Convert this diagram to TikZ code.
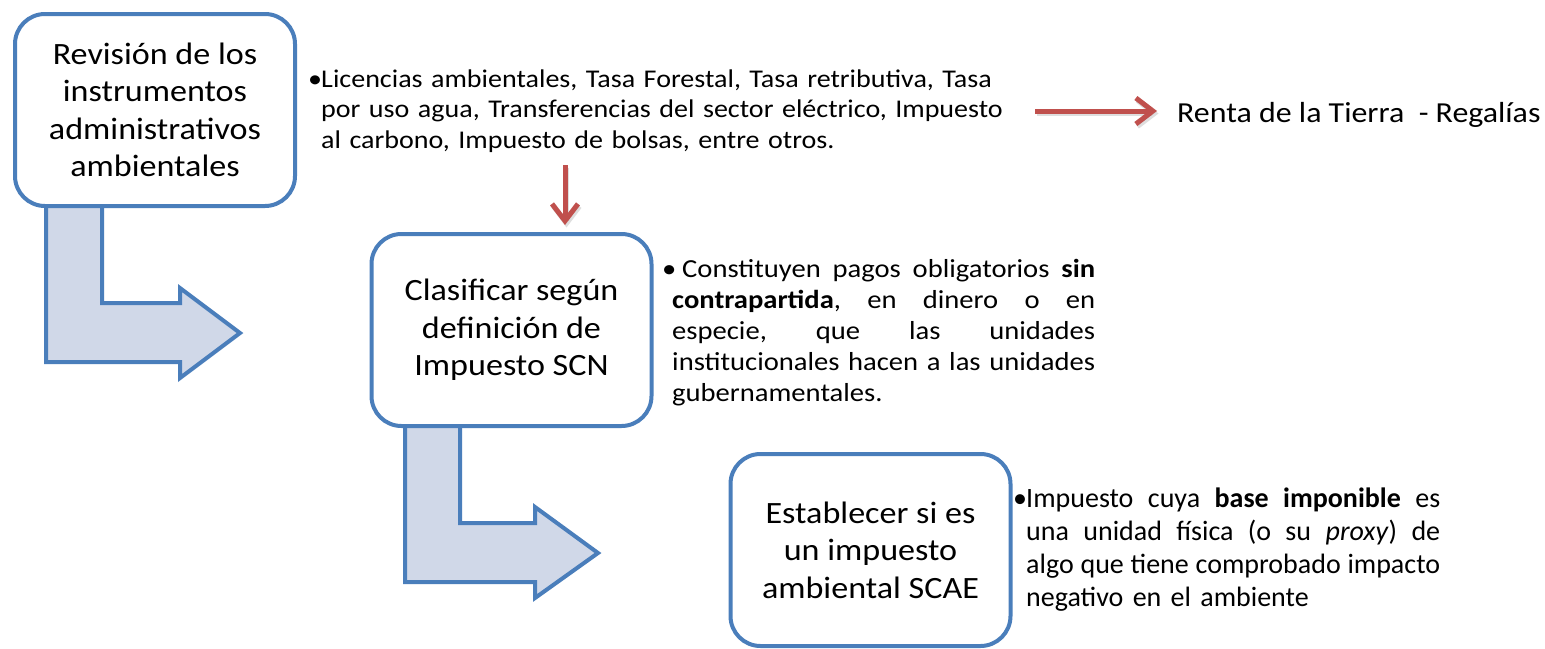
\documentclass[tikz,border=0pt]{standalone}
\usepackage{fontspec}
\setmainfont[FakeStretch=1.1]{Carlito}
\newfontfamily\plaincarlito{Carlito}
\usetikzlibrary{arrows.meta}
\definecolor{boxblue}{RGB}{74,126,187}
\definecolor{arrowfill}{RGB}{208,216,232}
\definecolor{arrred}{RGB}{192,80,77}
\begin{document}
\begin{tikzpicture}[x=1pt,y=-1pt,
  stepbox/.style={draw=boxblue, line width=4pt, fill=white, rounded corners=30pt,
    minimum width=280pt, minimum height=192pt, inner sep=0pt, align=center,
    font=\fontsize{31}{37.5}\selectfont},
  bendarrow/.style={draw=boxblue, line width=4pt, fill=arrowfill, line join=miter},
  redarrow/.style={draw=arrred, line width=5pt, -{Straight Barb[length=17pt,width=26pt]}},
  redshadow/.style={draw=black!25, opacity=0.5, line width=5pt, -{Straight Barb[length=17pt,width=26pt]},
    transform canvas={shift={(1.5pt,-2.5pt)}}},
  bullettext/.style={anchor=base west, inner sep=0pt, align=left, text width=740pt}]
\useasboundingbox (0,0) rectangle (1545,648);
\fill[white] (0,0) rectangle (1545,648);

% bent arrows (drawn first, boxes cover their tops)
\draw[bendarrow] (46,200) -- (46,362) -- (180,362) -- (180,378) -- (240,333)
  -- (180,288) -- (180,303) -- (102,303) -- (102,200) -- cycle;
\draw[bendarrow] (405,420) -- (405,582) -- (535,582) -- (535,598) -- (598,553)
  -- (535,507) -- (535,523) -- (460,523) -- (460,420) -- cycle;

% boxes
\node[stepbox] (b1) at (155,110) {Revisión de los\\instrumentos\\administrativos\\ambientales};
\node[stepbox] (b2) at (511.5,330) {Clasificar según\\definición de\\Impuesto SCN};
\node[stepbox] (b3) at (870.5,550) {Establecer si es\\un impuesto\\ambiental SCAE};

% bullet texts
\node[bullettext, font=\fontsize{25.5}{30.5}\selectfont] (t1) at (308,87)
  {\makebox[13pt][l]{•}Licencias ambientales, Tasa Forestal, Tasa retributiva, Tasa\\
   \hspace*{13pt}por uso agua, Transferencias del sector eléctrico, Impuesto\\
   \hspace*{13pt}al carbono, Impuesto de bolsas, entre otros.};

\node[bullettext, font=\fontsize{26}{31}\selectfont] (t2) at (662,277)
  {\makebox[10pt][l]{•}\makebox[423pt][l]{\hspace{10pt}Constituyen\hfill pagos\hfill obligatorios\hfill\textbf{sin}}\\
   \hspace*{10pt}\makebox[423pt][l]{\textbf{contrapartida},\hfill en\hfill dinero\hfill o\hfill en}\\
   \hspace*{10pt}\makebox[423pt][l]{especie,\hfill que\hfill las\hfill unidades}\\
   \hspace*{10pt}\makebox[423pt][l]{institucionales\hfill hacen\hfill a\hfill las\hfill unidades}\\
   \hspace*{10pt}gubernamentales.};

\node[bullettext, font=\plaincarlito\fontsize{28}{33}\selectfont] (t3) at (1013,507)
  {\makebox[13pt][l]{•}\makebox[414pt][l]{Impuesto\hfill cuya\hfill\textbf{base}\hfill\textbf{imponible}\hfill es}\\
   \hspace*{13pt}\makebox[414pt][l]{una\hfill unidad\hfill física\hfill (o\hfill su\hfill\textit{proxy})\hfill de}\\
   \hspace*{13pt}\makebox[414pt][l]{algo\hfill que\hfill tiene\hfill comprobado\hfill impacto}\\
   \hspace*{13pt}negativo en el ambiente};

\node[anchor=base west, inner sep=0pt, font=\fontsize{29}{34}\selectfont] (renta) at (1177,122)
  {Renta de la Tierra~~- Regalías};

% red arrows
\coordinate (r1) at (1035,111);
\coordinate (r2) at (1157,111);
\coordinate (d1) at (565,165);
\coordinate (d2) at (565,225);
\draw[redshadow] (r1) -- (r2);
\draw[redshadow] (d1) -- (d2);
\draw[redarrow] (r1) -- (r2);
\draw[redarrow] (d1) -- (d2);
\end{tikzpicture}
\end{document}
